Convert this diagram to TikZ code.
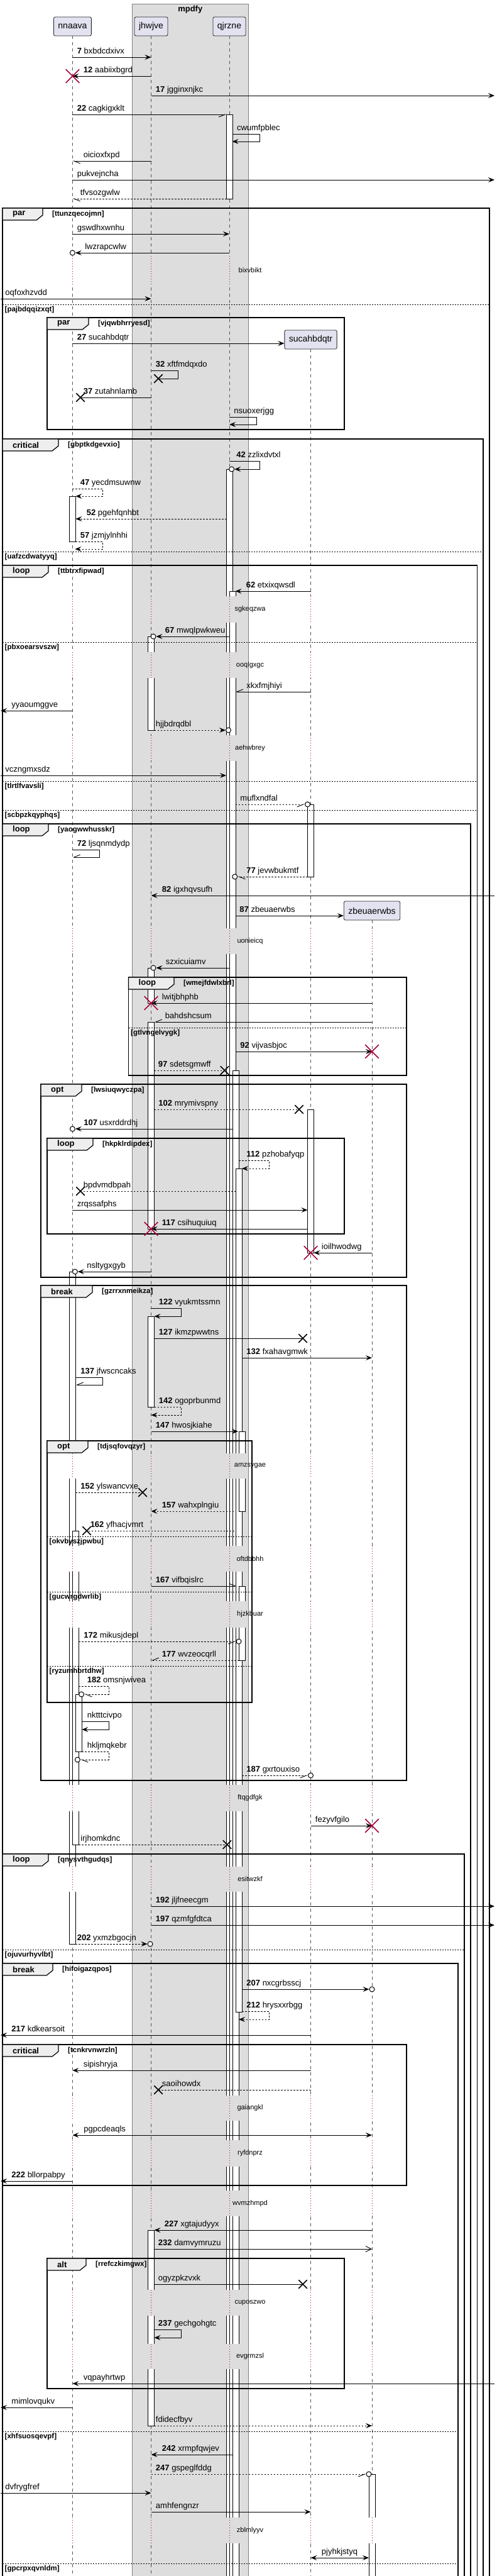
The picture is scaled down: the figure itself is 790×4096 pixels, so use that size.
\documentclass[tikz,border=0pt]{standalone}
\usepackage{fontspec}
\setmainfont{Liberation Sans}
\usetikzlibrary{arrows.meta,calc,shapes.misc}

\definecolor{grpgray}{HTML}{DDDDDD}
\definecolor{partfill}{HTML}{E2E2F0}
\definecolor{tabfill}{HTML}{EEEEEE}
\definecolor{crimson}{HTML}{A80036}
\definecolor{lifegray}{HTML}{555555}

\newcommand\msgfont{\fontsize{13}{15}\selectfont}
\newcommand\sn[1]{\textbf{#1}}

\tikzset{
  solidtip/.tip={Stealth[length=10pt,width=8pt,inset=4pt]},
  halfL/.tip={Straight Barb[harpoon,length=10pt,width=8pt]},
  halfR/.tip={Straight Barb[harpoon,swap,length=10pt,width=8pt]},
  opentip/.tip={Straight Barb[length=9pt,width=9pt]},
  msg/.style={line width=0.9pt, arrows=-solidtip},
  msgd/.style={msg, dash pattern=on 2.5pt off 2.5pt},
  lbl/.style={font=\msgfont, inner sep=0pt, anchor=base west},
  lr/.style={lbl, at start, xshift={(7+#1)*1pt}, yshift=6pt},
  lr/.default=0,
  rl/.style={lbl, at end, xshift={(17+#1)*1pt}, yshift=6pt},
  rl/.default=0,
  part/.style={draw=black!85, fill=partfill, rounded corners=2.5pt, line width=0.8pt,
    minimum height=30pt, inner xsep=7pt, font=\fontsize{14}{16}\selectfont},
  life/.style={draw=lifegray, line width=0.7pt, dash pattern=on 5pt off 5pt},
  actbox/.style={draw=black, fill=white, line width=0.8pt},
  grpbox/.style={draw=black!50, fill=grpgray, line width=0.8pt},
  grptitle/.style={font=\fontsize{13}{15}\selectfont\bfseries, inner sep=0pt},
  frame/.style={draw=black, line width=1.5pt},
  tab/.style={draw=black, fill=tabfill, line width=1.2pt},
  tablbl/.style={font=\fontsize{13}{15}\selectfont\bfseries, inner sep=0pt, anchor=west},
  cond/.style={font=\fontsize{11.5}{13}\selectfont\bfseries, inner sep=0pt, anchor=west},
  sepline/.style={draw=black, line width=0.8pt, dash pattern=on 2pt off 2pt},
  delayline/.style={draw=crimson, line width=0.8pt, dash pattern=on 1pt off 3pt},
  delaytxt/.style={font=\fontsize{11}{13}\selectfont, inner sep=1pt},
  destroyx/.style={cross out, draw=crimson, line width=1.6pt, minimum width=20pt,
    minimum height=20pt, inner sep=0pt},
  lostx/.style={cross out, draw=black, line width=1.5pt, minimum size=12pt, inner sep=0pt},
  circ/.style={circle, draw=black, fill=white, line width=1pt, minimum size=8pt, inner sep=0pt}
}

% frame: name, x1, y1, x2, y2, kind, tab width, condition
\newcommand\grp[8]{%
  \draw[frame] (#2,#3) rectangle (#4,#5);
  \draw[tab] (#2,#3) -- ++(#7,0) -- ++(0,11) -- ++(-10,8) -- (#2,#3+19) -- cycle;
  \node[tablbl] (#1) at (#2+16,#3+9.5) {#6};
  \node[cond] (#1c) at (#2+#7+15,#3+9.5) {[#8]};
}
% else line: name, x1, x2, y, condition
\newcommand\sep[5]{%
  \draw[sepline] (#2,#4) -- (#3,#4);
  \node[cond, anchor=north west] (#1) at (#2+3.5,#4+2.5) {[#5]};
}
% activation: lifeline, offset, y1, y2
\newcommand\act[4]{%
  \draw[actbox] ($(#1 |- 0,#3)+(#2-5,0)$) rectangle ($(#1 |- 0,#4)+(#2+5,0)$);
}
% delay: name, y1, y2, text, lifelines
\newcommand\delay[5]{%
  \foreach \p/\c in #5 {
    \fill[fill=\c] ($(\p |- 0,#2)+(-18,0)$) rectangle ($(\p |- 0,#3)+(28,0)$);
    \draw[delayline] (\p |- 0,#2) -- (\p |- 0,#3);
  }
  \node[delaytxt] (#1) at (398,{(#2+#3)/2}) {#4};
}
\newcommand\lsC{nnaava/white,jhwjve/grpgray,qjrzne/grpgray}
\newcommand\lsD{nnaava/white,jhwjve/grpgray,qjrzne/grpgray,sucahbdqtr/white}
\newcommand\lsE{nnaava/white,jhwjve/grpgray,qjrzne/grpgray,sucahbdqtr/white,zbeuaerwbs/white}

\begin{document}
\begin{tikzpicture}[x=1pt, y=-1pt]
\useasboundingbox (0,0) rectangle (790,4096);
\clip (0,0) rectangle (790,4096);

% box
\draw[grpbox] (210.6,6) rectangle (395,4110);
\node[grptitle] (mpdfy) at (302.8,15.5) {mpdfy};

% participants
\node[part] (nnaava) at (115.4,42) {nnaava};
\node[part] (jhwjve) at (240.5,42) {jhwjve};
\node[part] (qjrzne) at (365,42) {qjrzne};
\node[part] (sucahbdqtr) at (494.5,540) {sucahbdqtr};
\node[part] (zbeuaerwbs) at (592,1448) {zbeuaerwbs};
\coordinate (edgeL) at (1,0);
\coordinate (edgeR) at (787,0);

% lifelines
\foreach \p in {nnaava,jhwjve,qjrzne,sucahbdqtr,zbeuaerwbs}
  \draw[life] (\p.south) -- (\p |- 0,4110);

% activations
\act{nnaava}{0}{789}{861}
\act{nnaava}{0}{2022}{3091}
\act{nnaava}{5}{2434}{2933}
\act{nnaava}{10}{2694}{2785}
\act{jhwjve}{0}{1012}{1161}
\act{jhwjve}{0}{1539}{1595}
\act{jhwjve}{0}{1625}{1954}
\act{jhwjve}{0}{2093}{2237}
\act{jhwjve}{0}{3546}{3857}
\act{qjrzne}{0}{182}{316}
\act{qjrzne}{0}{746}{4110}
\act{qjrzne}{5}{940}{4110}
\act{qjrzne}{10}{1702}{4110}
\act{qjrzne}{15}{1858}{3199}
\act{qjrzne}{20}{2276}{2403}
\act{qjrzne}{20}{2522}{2640}
\act{sucahbdqtr}{0}{1279}{1394}
\act{sucahbdqtr}{0}{1764}{1992}
\act{zbeuaerwbs}{0}{3934}{4110}

% frames
\grp{pA}{4}{331}{779}{4110}{par}{64}{ttunzqecojmn}
\sep{sA}{4}{779}{484}{pajbdqqizxqt}
\grp{pB}{75}{505}{548}{683}{par}{66}{vjqwbhrryesd}
\grp{cC}{4}{698}{769}{4110}{critical}{89}{gbptkdgevxio}
\sep{sC}{4}{769}{877}{uafzcdwatyyq}
\grp{lD}{4}{899}{759.5}{4110}{loop}{73}{ttbtrxfipwad}
\sep{sD1}{4}{759.5}{1021}{pbxoearsvszw}
\sep{sD2}{4}{759.5}{1242}{tlrtlfvavsli}
\sep{sD3}{4}{759.5}{1288}{scbpzkqyphqs}
\grp{lE}{4}{1310}{749}{4110}{loop}{73}{yaogwwhusskr}
\grp{lF}{204.5}{1554}{647}{1710}{loop}{72.5}{wmejfdwlxbrl}
\sep{sF}{204.5}{647}{1634}{gtlvngelvygk}
\grp{oG}{65}{1724}{647}{2031}{opt}{65}{lwsiuqwyczpa}
\grp{lH}{75}{1810}{548}{1962}{loop}{73}{hkpklrdipdex}
\grp{bI}{65}{2044}{647}{2831}{break}{82}{gzrrxnmeikza}
\grp{oJ}{75}{2291}{401}{2707}{opt}{65}{tdjsqfovqzyr}
\sep{sJ1}{75}{401}{2443}{okvbyszjpwbu}
\sep{sJ2}{75}{401}{2531}{gucwrgdwrlib}
\sep{sJ3}{75}{401}{2649}{ryzumhbrtdhw}
\grp{lK}{4}{2948}{739}{4110}{loop}{73}{qnysvthgudqs}
\sep{sK}{4}{739}{3100}{ojuvurhyvlbt}
\grp{bL}{4}{3122}{729}{4110}{break}{80}{hifoigazqpos}
\grp{cM}{4}{3251}{647}{3475}{critical}{89}{tcnkrvnwrzln}
\grp{aN}{75}{3591}{548}{3798}{alt}{62}{rrefczkimgwx}
\sep{sL1}{4}{729}{3866}{xhfsuosqevpf}
\sep{sL2}{4}{729}{4076}{gpcrpxqvnldm}

% delays
\delay{bixvbikt}{407}{452}{bixvbikt}{\lsC}
\delay{sgkeqzwa}{948}{990}{sgkeqzwa}{\lsD}
\delay{ooqlgxgc}{1037}{1078}{ooqlgxgc}{\lsD}
\delay{aehwbrey}{1169}{1210}{aehwbrey}{\lsD}
\delay{uonieicq}{1476}{1517}{uonieicq}{\lsE}
\delay{amzsygae}{2311}{2351}{amzsygae}{\lsE}
\delay{oftdbbhh}{2458}{2499}{oftdbbhh}{\lsE}
\delay{hjzkbuar}{2546}{2588}{hjzkbuar}{\lsE}
\delay{ftqgdfgk}{2838}{2880}{ftqgdfgk}{\lsE}
\delay{esitwzkf}{2968}{3008}{esitwzkf}{\lsE}
\delay{gaiangkl}{3332}{3372}{gaiangkl}{\lsE}
\delay{ryfdnprz}{3403}{3445}{ryfdnprz}{\lsE}
\delay{wvmzhmpd}{3483}{3524}{wvmzhmpd}{\lsE}
\delay{cuposzwo}{3641}{3682}{cuposzwo}{\lsE}
\delay{evgrmzsl}{3727}{3767}{evgrmzsl}{\lsE}
\delay{zblmlyyv}{4003}{4044}{zblmlyyv}{\lsE}

% messages
\draw[msg] (nnaava |- 0,91) -- node[lr] (m7) {\sn{7} bxbdcdxivx} (jhwjve |- 0,91);
\draw[msg] (jhwjve |- 0,121) -- node[rl] (m12) {\sn{12} aabiixbgrd} (nnaava |- 0,121);
\node[destroyx] (x12) at (nnaava |- 0,121) {};
\draw[msg] (jhwjve |- 0,152) -- node[lr] (m17) {\sn{17} jgginxnjkc} (edgeR |- 0,152);
\draw[msg, arrows=-halfR, shorten >=4.5pt] (nnaava |- 0,182) -- node[lr] (m22) {\sn{22} cagkigxklt} (qjrzne |- 0,182);
\draw[msg, shorten <=4.6pt, shorten >=4.6pt] (qjrzne |- 0,213) -- node[lr=4.6] (cwumfpblec) {cwumfpblec} ++(48,0) |- (qjrzne |- 0,225);
\draw[msg, arrows=-halfL] (jhwjve |- 0,256) -- node[rl] (oicioxfxpd) {oicioxfxpd} (nnaava |- 0,256);
\draw[msg] (nnaava |- 0,286) -- node[lr] (pukvejncha) {pukvejncha} (edgeR |- 0,286);
\draw[msgd, arrows=-halfL, shorten <=4.5pt] (qjrzne |- 0,316) -- node[rl=-5] (tfvsozgwlw) {tfvsozgwlw} (nnaava |- 0,316);

\draw[msg] (nnaava |- 0,372) -- node[lr] (gswdhxwnhu) {gswdhxwnhu} (qjrzne |- 0,372);
\node[circ] (c10) at (nnaava |- 0,402) {};
\draw[msg] (qjrzne |- 0,402) -- node[rl=-2] (lwzrapcwlw) {lwzrapcwlw} (c10.east);
\draw[msg] (edgeL |- 0,475) -- node[lr] (oqfoxhzvdd) {oqfoxhzvdd} (jhwjve |- 0,475);
\draw[msg] (nnaava |- 0,546) -- node[lr] (m27) {\sn{27} sucahbdqtr} (sucahbdqtr.west |- 0,546);
\node[lostx] (x32) at ($(jhwjve |- 0,602)+(11.5,0)$) {};
\draw[msg, arrows=-] (jhwjve |- 0,589) -- node[lr] (m32) {\sn{32} xftfmdqxdo} ++(42.5,0) |- (x32.center);
\node[lostx] (x37) at ($(nnaava |- 0,632)+(12.6,0)$) {};
\draw[msg, arrows=-] (jhwjve |- 0,632) -- node[rl=-12.6] (m37) {\sn{37} zutahnlamb} (x37.center);
\draw[msg] (qjrzne |- 0,663) -- node[lr] (nsuoxerjgg) {nsuoxerjgg} ++(43,0) |- (qjrzne |- 0,675);

\node[circ] (c42) at ($(qjrzne |- 0,746)+(3.6,0)$) {};
\draw[msg] (qjrzne |- 0,733) -- node[lr=4] (m42) {\sn{42} zzlixdvtxl} ++(48,0) |- (c42.east);
\draw[msgd, shorten >=5pt] (nnaava |- 0,777) -- node[lr=5] (m47) {\sn{47} yecdmsuwnw} ++(48,0) |- (nnaava |- 0,789);
\draw[msgd, shorten <=4.5pt, shorten >=5pt] (qjrzne |- 0,825) -- node[rl=5] (m52) {\sn{52} pgehfqnhbt} (nnaava |- 0,825);
\draw[msgd, shorten <=5pt, shorten >=4pt] (nnaava |- 0,861) -- node[lr=5] (m57) {\sn{57} jzmjylnhhi} ++(48,0) |- (nnaava |- 0,873);

\draw[msg, shorten >=9.7pt] (sucahbdqtr |- 0,940) -- node[rl=9.4] (m62) {\sn{62} etxixqwsdl} (qjrzne |- 0,940);
\node[circ] (c67) at ($(jhwjve |- 0,1012)+(3.5,0)$) {};
\draw[msg] (qjrzne |- 0,1012) -- node[rl=-3] (m67) {\sn{67} mwqlpwkweu} (c67.east);
\draw[msg, arrows=-halfR, shorten >=9.7pt] (sucahbdqtr |- 0,1100) -- node[rl=10] (xkxfmjhiyi) {xkxfmjhiyi} (qjrzne |- 0,1100);
\draw[msg] (nnaava |- 0,1130) -- node[rl] (yyaoumggve) {yyaoumggve} (edgeL |- 0,1130);
\node[circ] (c24) at ($(qjrzne |- 0,1161)+(-1.5,0)$) {};
\draw[msgd, shorten <=5pt] (jhwjve |- 0,1161) -- node[lr] (hjjbdrqdbl) {hjjbdrqdbl} (c24.west);
\draw[msg, shorten >=5pt] (edgeL |- 0,1233) -- node[lr] (vczngmxsdz) {vczngmxsdz} (qjrzne |- 0,1233);
\node[circ] (c26) at ($(sucahbdqtr |- 0,1279)+(-5,0)$) {};
\draw[msgd, arrows=-halfR, shorten <=9.7pt] (qjrzne |- 0,1279) -- node[lr=10] (muflxndfal) {muflxndfal} (c26.west);

\draw[msg, arrows=-halfR] (nnaava |- 0,1351) -- node[lr] (m72) {\sn{72} ljsqnmdydp} ++(43,0) |- (nnaava |- 0,1363);
\node[circ] (c77) at ($(qjrzne |- 0,1394)+(8.7,0)$) {};
\draw[msgd, arrows=-halfL, shorten <=5pt] (sucahbdqtr |- 0,1394) -- node[rl=-3.3] (m77) {\sn{77} jevwbukmtf} (c77.east);
\draw[msg] (edgeR |- 0,1424) -- node[rl] (m82) {\sn{82} igxhqvsufh} (jhwjve |- 0,1424);
\draw[msg, shorten <=9.7pt] (qjrzne |- 0,1456) -- node[lr=9] (m87) {\sn{87} zbeuaerwbs} (zbeuaerwbs.west |- 0,1456);
\node[circ] (c31) at ($(jhwjve |- 0,1539)+(3.5,0)$) {};
\draw[msg] (qjrzne |- 0,1539) -- node[rl=-2] (szxicuiamv) {szxicuiamv} (c31.east);

\draw[msg] (zbeuaerwbs |- 0,1595) -- node[rl] (lwitjbhphb) {lwitjbhphb} (jhwjve |- 0,1595);
\node[destroyx] (xlw) at (jhwjve |- 0,1595) {};
\draw[msg, arrows=-halfR, shorten >=5pt] (zbeuaerwbs |- 0,1625) -- node[rl=5] (bahdshcsum) {bahdshcsum} (jhwjve |- 0,1625);
\draw[msg, shorten <=9.7pt] (qjrzne |- 0,1672) -- node[lr=10] (m92) {\sn{92} vijvasbjoc} (zbeuaerwbs |- 0,1672);
\node[destroyx] (x92) at (zbeuaerwbs |- 0,1672) {};
\node[lostx] (x97) at ($(qjrzne |- 0,1702)+(-7.5,0)$) {};
\draw[msgd, arrows=-, shorten <=5pt] (jhwjve |- 0,1702) -- node[lr=4] (m97) {\sn{97} sdetsgmwff} (x97.center);

\node[lostx] (x102) at ($(sucahbdqtr |- 0,1764)+(-18.5,0)$) {};
\draw[msgd, arrows=-, shorten <=5pt] (jhwjve |- 0,1764) -- node[lr=4.5] (m102) {\sn{102} mrymivspny} (x102.center);
\node[circ] (c107) at (nnaava |- 0,1795) {};
\draw[msg, shorten <=-5pt] (qjrzne |- 0,1795) -- node[rl=-4] (m107) {\sn{107} usxrddrdhj} (c107.east);
\draw[msgd, shorten <=15pt, shorten >=20pt] (qjrzne |- 0,1845) -- node[lr=20] (m112) {\sn{112} pzhobafyqp} ++(63,0) |- (qjrzne |- 0,1858);
\node[lostx] (x39) at ($(nnaava |- 0,1894)+(12.6,0)$) {};
\draw[msgd, arrows=-, shorten <=-10pt] (qjrzne |- 0,1894) -- node[rl=-12.6] (bpdvmdbpah) {bpdvmdbpah} (x39.center);
\draw[msg, shorten >=5pt] (nnaava |- 0,1924) -- node[lr] (zrqssafphs) {zrqssafphs} (sucahbdqtr |- 0,1924);
\draw[msg, shorten <=5pt] (sucahbdqtr |- 0,1954) -- node[rl] (m117) {\sn{117} csihuquiuq} (jhwjve |- 0,1954);
\node[destroyx] (x117) at (jhwjve |- 0,1954) {};
\draw[msg, shorten >=5pt] (zbeuaerwbs |- 0,1992) -- node[rl] (ioilhwodwg) {ioilhwodwg} (sucahbdqtr |- 0,1992);
\node[destroyx] (xio) at (sucahbdqtr |- 0,1992) {};
\node[circ] (c43) at ($(nnaava |- 0,2022)+(4,0)$) {};
\draw[msg] (jhwjve |- 0,2022) -- node[rl=-3] (nsltygxgyb) {nsltygxgyb} (c43.east);

\draw[msg, shorten >=5pt] (jhwjve |- 0,2080) -- node[lr=5] (m122) {\sn{122} vyukmtssmn} ++(48,0) |- (jhwjve |- 0,2093);
\node[lostx] (x127) at ($(sucahbdqtr |- 0,2128)+(-12.5,0)$) {};
\draw[msg, arrows=-, shorten <=5pt] (jhwjve |- 0,2128) -- node[lr=5] (m127) {\sn{127} ikmzpwwtns} (x127.center);
\draw[msg, shorten <=20pt] (qjrzne |- 0,2159) -- node[lr=20] (m132) {\sn{132} fxahavgmwk} (zbeuaerwbs |- 0,2159);
\draw[msg, arrows=-halfR, shorten <=5pt, shorten >=5pt] (nnaava |- 0,2190) -- node[lr=5.6] (m137) {\sn{137} jfwscncaks} ++(48,0) |- (nnaava |- 0,2202);
\draw[msgd, shorten <=5pt] (jhwjve |- 0,2237) -- node[lr=5] (m142) {\sn{142} ogoprbunmd} ++(48,0) |- (jhwjve |- 0,2250);
\draw[msg, shorten >=-14pt] (jhwjve |- 0,2276) -- node[lr] (m147) {\sn{147} hwosjkiahe} (qjrzne |- 0,2276);

\node[lostx] (x152) at ($(jhwjve |- 0,2373)+(-13.5,0)$) {};
\draw[msgd, arrows=-, shorten <=5pt] (nnaava |- 0,2373) -- node[lr=5.6] (m152) {\sn{152} ylswancvxe} (x152.center);
\draw[msgd, shorten <=-7pt] (qjrzne |- 0,2403) -- node[rl] (m157) {\sn{157} wahxplngiu} (jhwjve |- 0,2403);
\node[lostx] (x162) at ($(nnaava |- 0,2434)+(22.6,0)$) {};
\draw[msgd, arrows=-, shorten <=-8pt] (qjrzne |- 0,2434) -- node[rl=-11.7] (m162) {\sn{162} yfhacjvmrt} (x162.center);
\draw[msg, arrows=-halfL, shorten >=-12pt] (jhwjve |- 0,2522) -- node[lr] (m167) {\sn{167} vifbqislrc} (qjrzne |- 0,2522);
\node[circ] (c172) at ($(qjrzne |- 0,2610)+(15,0)$) {};
\draw[msgd, arrows=-halfR, shorten <=10pt] (nnaava |- 0,2610) -- node[lr=10.6] (m172) {\sn{172} mikusjdepl} (c172.west);
\draw[msgd, arrows=-halfR, shorten <=-15pt] (qjrzne |- 0,2640) -- node[rl] (m177) {\sn{177} wvzeocqrll} (jhwjve |- 0,2640);
\node[circ] (c182) at ($(nnaava |- 0,2694)+(14.2,0)$) {};
\draw[msgd, arrows=-halfL, shorten <=10pt] (nnaava |- 0,2681) -- node[lr=16] (m182) {\sn{182} omsnjwivea} ++(57.6,0) |- (c182.east);
\draw[msg, shorten <=15pt, shorten >=15pt] (nnaava |- 0,2737) -- node[lr=16] (nktttcivpo) {nktttcivpo} ++(57.6,0) |- (nnaava |- 0,2750);
\node[circ] (c58) at ($(nnaava |- 0,2798)+(8,0)$) {};
\draw[msgd, arrows=-halfL, shorten <=15pt] (nnaava |- 0,2785) -- node[lr=16] (hkljmqkebr) {hkljmqkebr} ++(57.6,0) |- (c58.east);
\node[circ] (c187) at (sucahbdqtr |- 0,2823) {};
\draw[msgd, arrows=-halfR, shorten <=20pt] (qjrzne |- 0,2823) -- node[lr=20] (m187) {\sn{187} gxrtouxiso} (c187.west);

\draw[msg] (sucahbdqtr |- 0,2903) -- node[lr] (fezyvfgilo) {fezyvfgilo} (zbeuaerwbs |- 0,2903);
\node[destroyx] (xfe) at (zbeuaerwbs |- 0,2903) {};
\node[lostx] (x61) at ($(qjrzne |- 0,2933)+(-3.5,0)$) {};
\draw[msgd, arrows=-, shorten <=10pt] (nnaava |- 0,2933) -- node[lr=5.6] (irjhomkdnc) {irjhomkdnc} (x61.center);

\draw[msg] (jhwjve |- 0,3031) -- node[lr] (m192) {\sn{192} jljfneecgm} (edgeR |- 0,3031);
\draw[msg] (jhwjve |- 0,3061) -- node[lr] (m197) {\sn{197} qzmfgfdtca} (edgeR |- 0,3061);
\node[circ] (c202) at ($(jhwjve |- 0,3091)+(-1.5,0)$) {};
\draw[msgd, shorten <=5pt] (nnaava |- 0,3091) -- node[lr] (m202) {\sn{202} yxmzbgocjn} (c202.west);
\node[circ] (c207) at (zbeuaerwbs |- 0,3163) {};
\draw[msg, shorten <=20pt] (qjrzne |- 0,3163) -- node[lr=20] (m207) {\sn{207} nxcgrbsscj} (c207.west);
\draw[msgd, shorten <=20pt, shorten >=15pt] (qjrzne |- 0,3198) -- node[lr=20] (m212) {\sn{212} hrysxxrbgg} ++(63,0) |- (qjrzne |- 0,3211);
\draw[msg] (sucahbdqtr |- 0,3236) -- node[rl] (m217) {\sn{217} kdkearsoit} (edgeL |- 0,3236);

\draw[msg] (sucahbdqtr |- 0,3292) -- node[rl] (sipishryja) {sipishryja} (nnaava |- 0,3292);
\node[lostx] (x69) at ($(jhwjve |- 0,3323)+(11.5,0)$) {};
\draw[msgd, arrows=-] (sucahbdqtr |- 0,3323) -- node[rl=-11.5] (saoihowdx) {saoihowdx} (x69.center);
\draw[msg, arrows=solidtip-solidtip] (nnaava |- 0,3395) -- node[lr=10.6] (pgpcdeaqls) {pgpcdeaqls} (zbeuaerwbs |- 0,3395);
\draw[msg] (nnaava |- 0,3468) -- node[rl] (m222) {\sn{222} bllorpabpy} (edgeL |- 0,3468);

\draw[msg, shorten >=5pt] (zbeuaerwbs |- 0,3546) -- node[rl=4] (m227) {\sn{227} xgtajudyyx} (jhwjve |- 0,3546);
\draw[msg, arrows=-opentip, shorten <=5pt] (jhwjve |- 0,3576) -- node[lr=4] (m232) {\sn{232} damvymruzu} (zbeuaerwbs |- 0,3576);
\node[lostx] (x74) at ($(sucahbdqtr |- 0,3632)+(-12.5,0)$) {};
\draw[msg, arrows=-, shorten <=5pt] (jhwjve |- 0,3632) -- node[lr=4] (ogyzpkzvxk) {ogyzpkzvxk} (x74.center);
\draw[msg, shorten <=5pt, shorten >=5pt] (jhwjve |- 0,3704) -- node[lr=4] (m237) {\sn{237} gechgohgtc} ++(48,0) |- (jhwjve |- 0,3717);
\draw[msg] (edgeR |- 0,3790) -- node[rl] (vqpayhrtwp) {vqpayhrtwp} (nnaava |- 0,3790);
\draw[msg] (nnaava |- 0,3828) -- node[rl] (mimlovqukv) {mimlovqukv} (edgeL |- 0,3828);
\draw[msgd, shorten <=5pt] (jhwjve |- 0,3857) -- node[lr] (fdidecfbyv) {fdidecfbyv} (zbeuaerwbs |- 0,3857);

\draw[msg, shorten <=-5pt] (qjrzne |- 0,3903) -- node[rl] (m242) {\sn{242} xrmpfqwjev} (jhwjve |- 0,3903);
\node[circ] (c247) at ($(zbeuaerwbs |- 0,3934)+(-5,0)$) {};
\draw[msgd, arrows=-halfR] (jhwjve |- 0,3934) -- node[lr] (m247) {\sn{247} gspeglfddg} (c247.west);
\draw[msg] (edgeL |- 0,3964) -- node[lr] (dvfrygfref) {dvfrygfref} (jhwjve |- 0,3964);
\draw[msg] (jhwjve |- 0,3994) -- node[lr] (amhfengnzr) {amhfengnzr} (sucahbdqtr |- 0,3994);
\draw[msg, arrows=solidtip-solidtip, shorten >=5pt] (sucahbdqtr |- 0,4067) -- node[lr=10] (pjyhkjstyq) {pjyhkjstyq} (zbeuaerwbs |- 0,4067);
\end{tikzpicture}
\end{document}
